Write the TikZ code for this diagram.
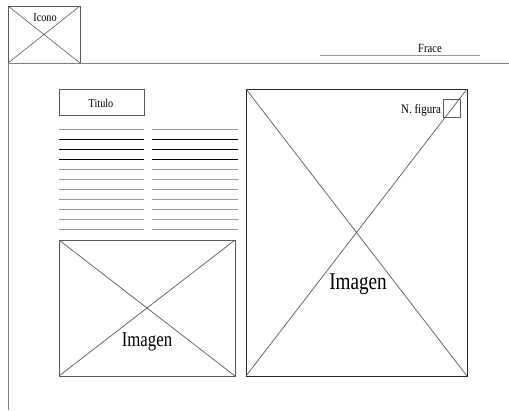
\documentclass[tikz,border=0pt]{standalone}
\usepackage{fontspec}
\setmainfont{Liberation Serif}

\begin{document}
\begin{tikzpicture}[x=1pt,y=-1pt,
  caja/.style={draw=black!65,line width=.9pt},
  renglon/.style={draw=black!40,line width=1pt},
  texto/.style={inner sep=0pt,anchor=base,transform shape,xscale=.85}]
\useasboundingbox (0,0) rectangle (509,410);

% cabecera
\draw[caja] (8,6) rectangle (80,63);
\draw[caja,line width=.6pt] (8,6) -- (80,63) (8,63) -- (80,6);
\node[texto,font=\fontsize{12}{12}\selectfont] (icono) at (45,21) {Icono};
\draw[renglon,line width=.8pt] (320,55) -- (480,55);
\node[texto,font=\fontsize{12.5}{12.5}\selectfont] (frace) at (430,52) {Frace};
\draw[caja,draw=black!50] (8,63) -- (509,63) (8,63) -- (8,410);

% columna izquierda
\draw[caja] (59,89) rectangle (144,115);
\node[texto,font=\fontsize{12}{12}\selectfont] (titulo) at (101,107) {Titulo};
\foreach \y in {129,139,...,229}
  \draw[renglon] (59,\y) -- (144,\y) (152,\y) -- (238,\y);
\foreach \y in {139,149,159}
  \draw[black,line width=.8pt] (59,\y) -- (144,\y) (152,\y) -- (238,\y);

\draw[caja] (59,240) rectangle (235,376);
\draw[caja,line width=.7pt] (59,240) -- (235,376) (59,376) -- (235,240);
\node[texto,xscale=.94,font=\fontsize{21}{21}\selectfont] (imagenA) at (147,346) {Imagen};

% figura grande
\draw[caja,draw=black!85] (246,89) rectangle (467,376);
\draw[caja,line width=.7pt] (246,89) -- (467,376) (246,376) -- (467,89);
\draw[caja] (443,99) rectangle (460,117);
\node[texto,font=\fontsize{13}{13}\selectfont] (nfigura) at (421,113) {N. figura};
\node[texto,xscale=.94,font=\fontsize{24}{24}\selectfont] (imagenB) at (358,289) {Imagen};
\end{tikzpicture}
\end{document}
